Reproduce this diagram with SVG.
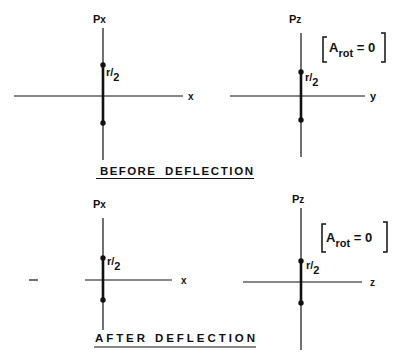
<svg xmlns="http://www.w3.org/2000/svg" width="399" height="354" viewBox="0 0 399 354">
<style>
.thin{stroke:#111;stroke-width:1.2;fill:none}
.thick{stroke:#111;stroke-width:2.6;fill:none}
.dot{fill:#111}
.lbl{font-family:"Liberation Sans",Arial,sans-serif;font-weight:bold;fill:#111}
.cap{font-family:"Liberation Sans",Arial,sans-serif;font-weight:bold;fill:#111;font-size:11.5px}
.br{stroke:#111;stroke-width:1.5;fill:none}
</style>
<rect width="399" height="354" fill="#fff"/>
<g id="panel-before-x">
<line class="thin" x1="103" y1="28" x2="103" y2="160"/>
<line class="thin" x1="14" y1="96" x2="183" y2="96"/>
<line class="thick" x1="103" y1="65" x2="103" y2="123"/>
<circle class="dot" cx="103" cy="65" r="2.7"/>
<circle class="dot" cx="103" cy="123" r="2.7"/>
<text class="lbl" x="93" y="23" font-size="11">P<tspan font-size="10">x</tspan></text>
<text class="lbl" x="188" y="100" font-size="10">x</text>
<text class="lbl" x="106" y="76" font-size="11">r/<tspan dy="5">2</tspan></text>
</g>
<g id="panel-before-y">
<line class="thin" x1="301" y1="33" x2="301" y2="157"/>
<line class="thin" x1="230" y1="96" x2="365" y2="96"/>
<line class="thick" x1="301" y1="72" x2="301" y2="120"/>
<circle class="dot" cx="301" cy="72" r="2.7"/>
<circle class="dot" cx="301" cy="120" r="2.7"/>
<text class="lbl" x="289" y="23" font-size="11">P<tspan font-size="10">z</tspan></text>
<text class="lbl" x="370" y="100" font-size="11">y</text>
<text class="lbl" x="305" y="81" font-size="11">r/<tspan dy="5">2</tspan></text>
<path class="br" d="M327,37 H323 V62 H327"/>
<path class="br" d="M381,33 H385 V62 H381"/>
<text class="lbl" x="329" y="52" font-size="13">A<tspan font-size="11" dy="5">rot</tspan><tspan dy="-5" font-size="13"> = 0</tspan></text>
</g>
<g id="caption-before">
<text class="cap" x="100" y="175" textLength="55" lengthAdjust="spacing">BEFORE</text>
<text class="cap" x="165" y="175" textLength="88" lengthAdjust="spacing">DEFLECTION</text>
<line class="thin" x1="96" y1="178.5" x2="254" y2="178.5"/>
</g>
<g id="panel-after-x">
<line class="thin" x1="103" y1="218" x2="103" y2="330"/>
<line class="thin" x1="29" y1="280" x2="38" y2="280"/>
<line class="thin" x1="85" y1="280" x2="172" y2="280"/>
<line class="thick" x1="103" y1="258" x2="103" y2="300"/>
<circle class="dot" cx="103" cy="258" r="2.7"/>
<circle class="dot" cx="103" cy="300" r="2.7"/>
<text class="lbl" x="93" y="208" font-size="11">P<tspan font-size="10">x</tspan></text>
<text class="lbl" x="181" y="284" font-size="10">x</text>
<text class="lbl" x="107" y="265" font-size="11">r/<tspan dy="5">2</tspan></text>
</g>
<g id="panel-after-z">
<line class="thin" x1="301" y1="208" x2="301" y2="350"/>
<line class="thin" x1="243" y1="282" x2="362" y2="282"/>
<line class="thick" x1="301" y1="261" x2="301" y2="303"/>
<circle class="dot" cx="301" cy="261" r="2.7"/>
<circle class="dot" cx="301" cy="303" r="2.7"/>
<text class="lbl" x="292" y="203" font-size="11">P<tspan font-size="10">z</tspan></text>
<text class="lbl" x="370" y="286" font-size="10">z</text>
<text class="lbl" x="306" y="269" font-size="11">r/<tspan dy="5">2</tspan></text>
<path class="br" d="M326,224 H322 V252 H326"/>
<path class="br" d="M383,222 H387 V252 H383"/>
<text class="lbl" x="326" y="242" font-size="13">A<tspan font-size="11" dy="5">rot</tspan><tspan dy="-5" font-size="13"> = 0</tspan></text>
</g>
<g id="caption-after">
<text class="cap" x="95" y="342" textLength="50" lengthAdjust="spacing">AFTER</text>
<text class="cap" x="155" y="342" textLength="100" lengthAdjust="spacing">DEFLECTION</text>
<line class="thin" x1="94" y1="347" x2="256" y2="347"/>
</g>
<g id="connectors"></g>
</svg>
